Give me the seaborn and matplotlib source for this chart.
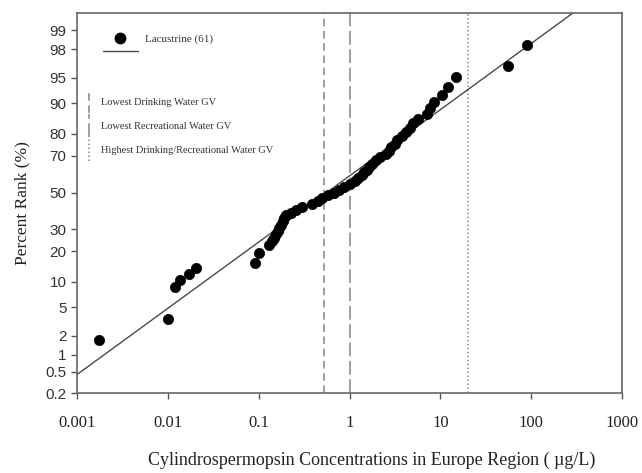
import matplotlib
matplotlib.use("Agg")
import matplotlib.pyplot as plt
import seaborn as sns
import numpy as np
import pandas as pd
from statistics import NormalDist
from matplotlib.lines import Line2D
from matplotlib.legend_handler import HandlerBase

# datos (concentracion ug/L, rango percentil %)
conc = [0.00175, 0.0100, 0.0119, 0.0135, 0.0170, 0.0203, 0.0904, 0.100, 0.129,
        0.139, 0.146, 0.154, 0.162, 0.168, 0.175, 0.184, 0.191, 0.198, 0.225,
        0.255, 0.297, 0.382, 0.445, 0.492, 0.573, 0.667, 0.757, 0.859, 1.00,
        1.135, 1.224, 1.355, 1.425, 1.537, 1.618, 1.744, 1.931, 2.136, 2.487,
        2.683, 2.894, 3.124, 3.368, 3.822, 4.228, 4.677, 5.047, 5.731, 7.197,
        7.765, 8.590, 10.52, 12.25, 15.0, 55.9, 90.4]
rango = [1.7, 3.5, 8.7, 10.4, 12.1, 13.9, 15.5, 19.2, 22.5,
         24.2, 25.8, 27.4, 29.0, 30.6, 32.3, 33.9, 35.5, 37.1, 38.7,
         40.3, 41.9, 43.5, 45.2, 46.8, 48.4, 50.0, 51.6, 53.2, 54.8,
         56.5, 58.1, 59.7, 61.3, 62.9, 64.5, 66.1, 67.7, 69.4, 71.0,
         72.6, 74.2, 75.8, 77.4, 79.0, 80.6, 82.3, 83.9, 85.5, 87.1,
         88.7, 90.3, 91.9, 93.5, 95.2, 96.5, 98.3]

# recta de ajuste (extremos leidos)
ajuste_x = [0.001, 1000]
ajuste_p = [0.45, 99.9]

# valores guia (GV)
gv_valores = [0.52, 1.0, 20.0]
gv_nombres = ["Lowest Drinking Water GV", "Lowest Recreational Water GV",
              "Highest Drinking/Recreational Water GV"]
gv_estilos = [(0, (5, 3)), (0, (9, 3)), (0, (1, 1.6))]

y_ticks = [0.2, 0.5, 1, 2, 5, 10, 20, 30, 50, 70, 80, 90, 95, 98, 99]
x_ticks = [0.001, 0.01, 0.1, 1, 10, 100, 1000]
x_labels = ["0.001", "0.01", "0.1", "1", "10", "100", "1000"]

df = pd.DataFrame({"conc": conc, "rango": rango})
df_ajuste = pd.DataFrame({"x": ajuste_x, "p": ajuste_p})

sns.set_style("white")
plt.rcParams["font.family"] = ["Liberation Serif", "DejaVu Serif"]

nd = NormalDist()
_ppf = np.vectorize(nd.inv_cdf, otypes=[float])
_cdf = np.vectorize(nd.cdf, otypes=[float])


def adelante(p):
    p = np.clip(np.asarray(p, dtype=float) / 100.0, 1e-9, 1 - 1e-9)
    return _ppf(p)


def atras(z):
    return _cdf(np.asarray(z, dtype=float)) * 100.0


class LineaVertical(HandlerBase):
    def create_artists(self, legend, orig, xdescent, ydescent, width, height, fontsize, trans):
        x = width / 2 - xdescent
        ln = Line2D([x, x], [-ydescent - 0.35 * height, height * 1.35 - ydescent])
        ln.update_from(orig)
        ln.set_transform(trans)
        return [ln]


fig = plt.figure(figsize=(6.42, 4.73), dpi=100)
ax = fig.add_axes([0.12, 0.169, 0.849, 0.8035])

ax.set_xscale("log")
ax.set_yscale("function", functions=(adelante, atras))

gris = "#4a4a4a"
gris_gv = "#858585"
for v, est in zip(gv_valores, gv_estilos):
    ax.axvline(v, color=gris_gv, linestyle=est, linewidth=1.1, zorder=1)

sns.lineplot(data=df_ajuste, x="x", y="p", ax=ax, color=gris, linewidth=1.0, zorder=2)
sns.scatterplot(data=df, x="conc", y="rango", ax=ax, color="black", s=55,
                edgecolor="black", linewidth=0.5, zorder=3)

ax.set_xlim(0.001, 1000)
ax.set_ylim(0.2, 99.5)
ax.set_xticks(x_ticks)
ax.set_xticklabels(x_labels, fontsize=12, color="#222222")
ax.xaxis.set_minor_locator(matplotlib.ticker.NullLocator())
ax.set_yticks(y_ticks)
ax.set_yticklabels([str(t) for t in y_ticks], fontsize=11, color="#333333",
                   family=["Liberation Sans", "DejaVu Sans"])
ax.yaxis.set_minor_locator(matplotlib.ticker.NullLocator())
ax.tick_params(axis="both", direction="out", length=4, width=1, color="#555555",
               left=True, bottom=True)
ax.tick_params(axis="x", pad=12)

for s in ax.spines.values():
    s.set_color("#666666")
    s.set_linewidth(1.2)

ax.set_xlabel("Cylindrospermopsin Concentrations in Europe Region ( \u00b5g/L)",
              fontsize=13, color="#222222")
ax.xaxis.set_label_coords(0.54, -0.155)
ax.set_ylabel("Percent Rank (%)", fontsize=12.5, color="#222222")
ax.yaxis.set_label_coords(-0.085, 0.5)

# leyenda de datos
h_punto = Line2D([], [], marker="o", linestyle="none", color="black", markersize=7.5)
h_linea = Line2D([], [], color=gris, linewidth=1.0)
leg1 = ax.legend([h_punto, h_linea], ["Lacustrine (61)", ""], loc="upper left",
                 bbox_to_anchor=(0.048, 0.945), frameon=False, fontsize=8,
                 handlelength=3.1, handletextpad=0.7, labelspacing=0.25,
                 borderpad=0, borderaxespad=0)
for t in leg1.get_texts():
    t.set_color("#333333")
ax.add_artist(leg1)

# leyenda de valores guia
h_gv = [Line2D([], [], color=gris_gv, linestyle=est, linewidth=1.1) for est in gv_estilos]
leg2 = ax.legend(h_gv, gv_nombres, loc="upper left", bbox_to_anchor=(0.016, 0.784),
                 frameon=False, fontsize=7.5, handlelength=0.6, handleheight=1.6,
                 handletextpad=0.9, labelspacing=1.0, borderpad=0, borderaxespad=0,
                 handler_map={Line2D: LineaVertical()})
for t in leg2.get_texts():
    t.set_color("#333333")

fig.savefig("out.png", dpi=100)
